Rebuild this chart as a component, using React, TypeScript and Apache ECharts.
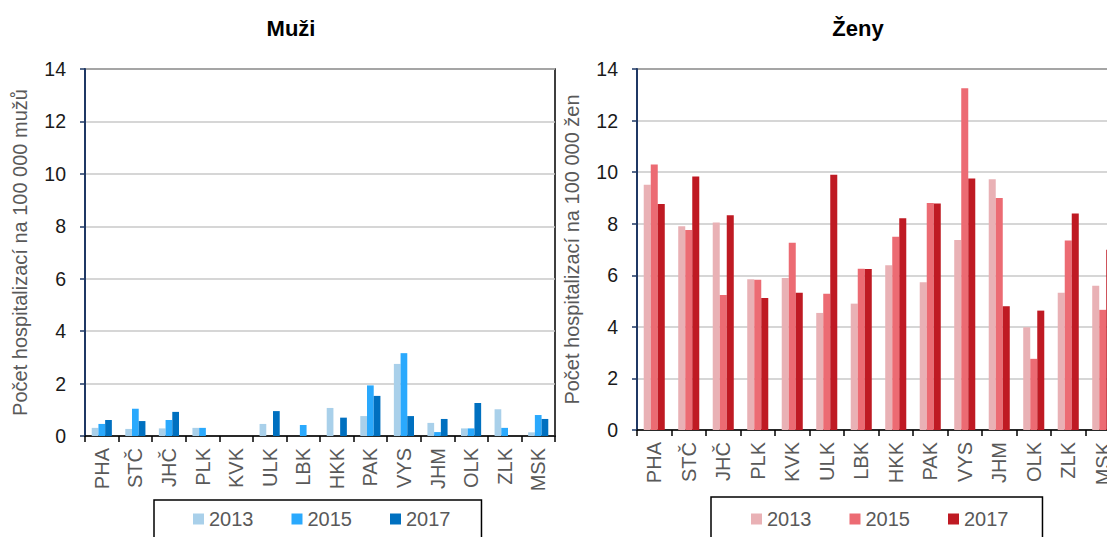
import React, { useEffect, useRef } from "react";
import * as echarts from "echarts";

const regions = ["PHA", "STČ", "JHČ", "PLK", "KVK", "ULK", "LBK", "HKK", "PAK", "VYS", "JHM", "OLK", "ZLK", "MSK"];
const years = ["2013", "2015", "2017"];

const men2013 = [0.31, 0.27, 0.29, 0.31, 0, 0.46, 0, 1.07, 0.76, 2.75, 0.5, 0.29, 1.02, 0.14];
const men2015 = [0.46, 1.04, 0.61, 0.31, 0, 0, 0.42, 0, 1.93, 3.16, 0.15, 0.29, 0.31, 0.8];
const men2017 = [0.61, 0.57, 0.92, 0, 0, 0.95, 0, 0.7, 1.53, 0.76, 0.65, 1.26, 0, 0.65];

const women2013 = [9.51, 7.9, 8.05, 5.85, 5.89, 4.54, 4.9, 6.39, 5.73, 7.37, 9.72, 3.98, 5.32, 5.59];
const women2015 = [10.3, 7.76, 5.24, 5.83, 7.26, 5.28, 6.25, 7.49, 8.8, 13.25, 9.0, 2.76, 7.35, 4.66];
const women2017 = [8.76, 9.83, 8.33, 5.12, 5.32, 9.9, 6.24, 8.21, 8.78, 9.75, 4.8, 4.63, 8.4, 6.99];

const menColors = ["#a9d0ea", "#2aa9fd", "#0070c0"];
const womenColors = ["#e9b1b5", "#ec6b73", "#bf1a23"];

const FONT = "'Liberation Sans', Arial, sans-serif";

export default function App() {
  const ref = useRef<HTMLDivElement>(null);
  useEffect(() => {
    if (!ref.current) return;
    const chart = echarts.init(ref.current, undefined, { renderer: "svg" });
    const menData = [men2013, men2015, men2017];
    const womenData = [women2013, women2015, women2017];

    const xAxisBase = (gridIndex: number) => ({
      type: "category" as const,
      gridIndex,
      data: regions,
      boundaryGap: true,
      axisLine: { show: true, lineStyle: { color: "#000", width: 1.5 } },
      axisTick: { show: true, alignWithLabel: false, length: 6, lineStyle: { color: "#000", width: 1.5 } },
      axisLabel: { rotate: 90, color: "#595959", fontSize: 20, fontFamily: FONT, margin: 12, interval: 0 },
    });
    const yAxisBase = (gridIndex: number, name: string) => ({
      type: "value" as const,
      gridIndex,
      min: 0,
      max: 14,
      interval: 2,
      name,
      nameLocation: "middle" as const,
      nameGap: 55,
      nameTextStyle: { color: "#595959", fontSize: 20, fontFamily: FONT },
      axisLine: { show: true, lineStyle: { color: "#1f3864", width: 2 } },
      axisTick: { show: true, length: 5, lineStyle: { color: "#1f3864", width: 1.5 } },
      axisLabel: { color: "#1a1a1a", fontSize: 19.5, fontFamily: FONT, margin: 19 },
      splitLine: { show: true, lineStyle: { color: "#c8c8c8", width: 1.5 } },
    });

    const series: any[] = [];
    years.forEach((y, i) => {
      series.push({
        type: "bar",
        name: "m" + y,
        xAxisIndex: 0,
        yAxisIndex: 0,
        data: menData[i],
        itemStyle: { color: menColors[i] },
        barGap: "0%",
        barCategoryGap: "40%",
      });
    });
    years.forEach((y, i) => {
      series.push({
        type: "bar",
        name: "w" + y,
        xAxisIndex: 1,
        yAxisIndex: 1,
        data: womenData[i],
        itemStyle: { color: womenColors[i] },
        barGap: "0%",
        barCategoryGap: "39%",
      });
    });

    const legendBase = {
      orient: "horizontal" as const,
      icon: "rect",
      itemWidth: 11,
      itemHeight: 11,
      itemGap: 38,
      borderColor: "#000",
      borderWidth: 1.5,
      textStyle: { color: "#595959", fontSize: 20, fontFamily: FONT },
      formatter: (n: string) => n.slice(1),
      selectedMode: false,
    };

    chart.setOption({
      animation: false,
      backgroundColor: "#fff",
      textStyle: { fontFamily: FONT },
      grid: [
        { left: 85, top: 69, width: 470, height: 367, show: true, borderColor: "#000", borderWidth: 1.5, backgroundColor: "transparent" },
        { left: 637, top: 69, width: 483, height: 361, show: true, borderColor: "#000", borderWidth: 1.5, backgroundColor: "transparent" },
      ],
      xAxis: [xAxisBase(0), xAxisBase(1)],
      yAxis: [yAxisBase(0, "Počet hospitalizací na 100 000 mužů"), yAxisBase(1, "Počet hospitalizací na 100 000 žen")],
      legend: [
        { ...legendBase, data: years.map((y) => "m" + y), left: 154, top: 500, padding: [9, 31, 30, 39] },
        { ...legendBase, data: years.map((y) => "w" + y), left: 711, top: 497, padding: [12, 34, 30, 40] },
      ],
      graphic: [
        { type: "text", x: 291, y: 17, style: { text: "Muži", fill: "#000", font: `bold 22px ${FONT}`, align: "center", verticalAlign: "top" } },
        { type: "text", x: 858, y: 17, style: { text: "Ženy", fill: "#000", font: `bold 22px ${FONT}`, align: "center", verticalAlign: "top" } },
      ],
      series,
    });
    return () => chart.dispose();
  }, []);
  return (
    <div style={{ position: "fixed", left: 0, top: 0, width: 1107, height: 537, overflow: "hidden", background: "#fff" }}>
      <div ref={ref} style={{ width: 1135, height: 537 }} />
    </div>
  );
}
